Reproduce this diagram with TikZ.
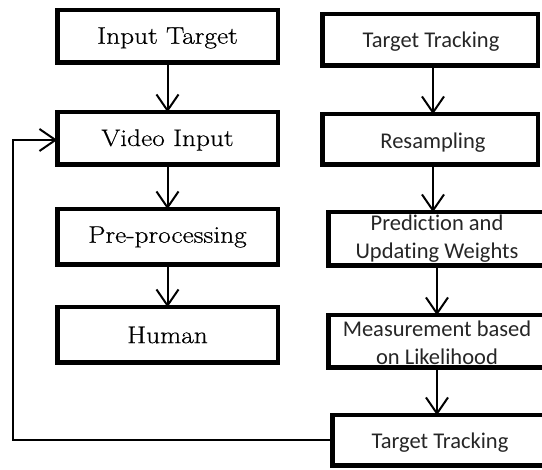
\documentclass[tikz,border=0pt]{standalone}
\usepackage{fontspec}
\newfontfamily\calib{Carlito}[Ligatures=NoCommon]
\newfontfamily\lmw{Latin Modern Roman 10 Regular}[FakeStretch=1.14,FakeBold=0.6]
\usetikzlibrary{arrows.meta}
\begin{document}
\begin{tikzpicture}[x=1pt,y=-1pt,
  box/.style={draw=black,line width=4.5pt,inner sep=0pt,outer sep=0pt,minimum width=#1},
  ltxt/.style={font=\lmw\fontsize{24}{28}\selectfont,text=black,inner sep=0pt},
  rtxt/.style={font=\calib\fontsize{22.5}{28}\selectfont,text=black!85,inner sep=0pt,align=center},
  arr/.style={line width=2pt,-{Straight Barb[length=16pt,width=22pt]}}
]
\useasboundingbox (0,0) rectangle (542,470);
\clip (0,0) rectangle (542,470);
% left column
\node[box=220.5pt,minimum height=52.5pt] (l1) at (167.5,36.5) {};
\node[box=220.5pt,minimum height=52.5pt] (l2) at (167.5,138.5) {};
\node[box=220.5pt,minimum height=55.5pt] (l3) at (167.5,237) {};
\node[box=220.5pt,minimum height=55.5pt] (l4) at (167.5,335) {};
\node[ltxt] (t1) at (167.5,38) {Input Target};
\node[ltxt] (t2) at (167.5,140) {Video Input};
\node[ltxt] (t3) at (167.5,237) {Pre-processing};
\node[ltxt] (t4) at (167.5,335) {Human};
% right column
\node[box=215.5pt,minimum height=51.5pt] (r1) at (430,40) {};
\node[box=215.5pt,minimum height=50.5pt] (r2) at (430,139.5) {};
\node[box=217.5pt,minimum height=53.5pt] (r3) at (437,239) {};
\node[box=217.5pt,minimum height=52.5pt] (r4) at (437,341.5) {};
\node[box=213.5pt,minimum height=50.5pt] (r5) at (439,440.5) {};
\node[rtxt] (s1) at (431,42) {Target Tracking};
\node[rtxt] (s2) at (433,143) {Resampling};
\node[rtxt] (s3) at (437,239) {Prediction and\\Updating Weights};
\node[rtxt] (s4) at (437,343) {Measurement based\\on Likelihood};
\node[rtxt] (s5) at (440,443) {Target Tracking};
% connectors
\coordinate (xa) at (433,0);
\coordinate (xb) at (437,0);
\coordinate (c2) at (13,140);
\draw[arr] (l1.south) -- (l2.north);
\draw[arr] (l2.south) -- (l3.north);
\draw[arr] (l3.south) -- (l4.north);
\draw[arr] (r1.south -| xa) -- (r2.north -| xa);
\draw[arr] (r2.south -| xa) -- (r3.north -| xa);
\draw[arr] (r3.south -| xb) -- (r4.north -| xb);
\draw[arr] (r4.south -| xb) -- (r5.north -| xb);
\draw[arr] (r5.west) -| (c2) -- (l2.west |- c2);
\end{tikzpicture}
\end{document}
